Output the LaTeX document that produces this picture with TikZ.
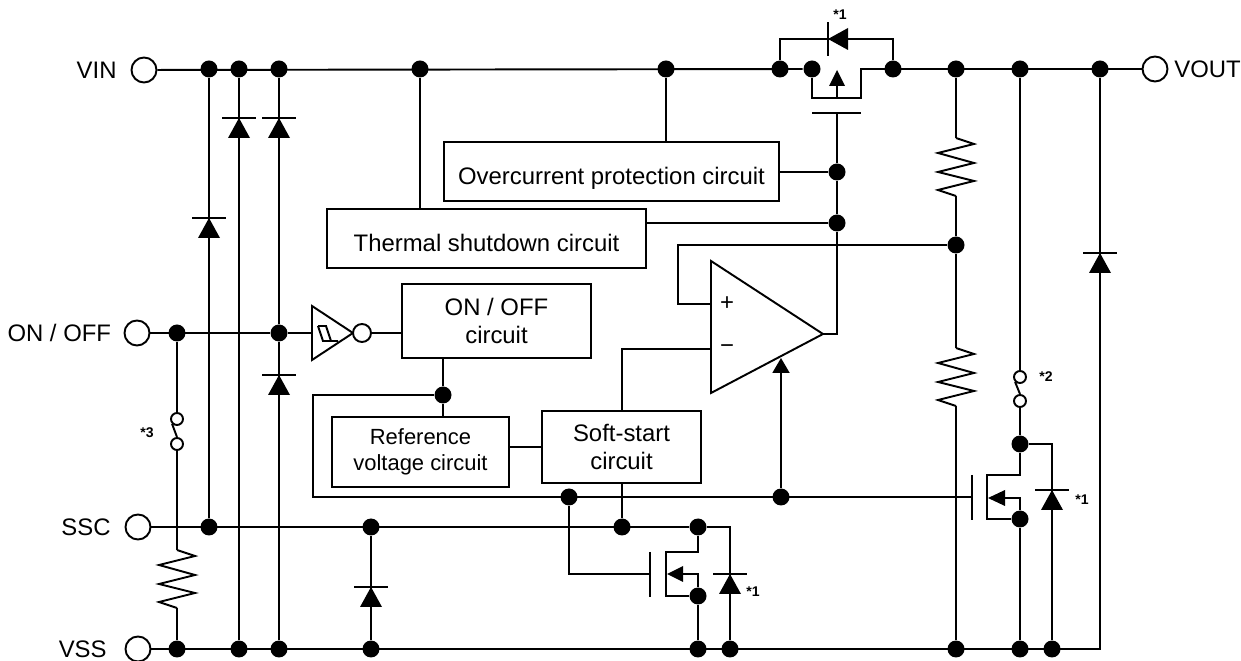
\documentclass[tikz,border=0pt]{standalone}
\usepackage{fontspec}
\setmainfont{Liberation Sans}
\usetikzlibrary{positioning}
\usetikzlibrary{arrows.meta}

\tikzset{
  jdot/.style={circle, fill, inner sep=0pt, minimum size=0.34cm},
  pin/.style={circle, draw, fill=white, inner sep=0pt, minimum size=0.5cm},
  swc/.style={circle, draw, fill=white, inner sep=0pt, minimum size=0.24cm},
  bubble/.style={circle, draw, fill=white, inner sep=0pt, minimum size=0.36cm},
  block/.style={draw, align=center, inner sep=0pt, font=\fontsize{13.6}{16}\selectfont},
  lowtext/.style={text height=15pt, text depth=0pt},
  lbl/.style={inner sep=0pt, font=\fontsize{13.6}{16}\selectfont},
  note/.style={inner sep=0pt, font=\fontsize{8}{9}\selectfont\bfseries},
  diodeup/.pic={
    \draw (-17,0) -- (17,0);
    \fill (0,0) -- (-11,20) -- (11,20) -- cycle;
  },
  resv/.pic={
    \draw (0,0) -- (18,6) -- (-18,15) -- (18,25) -- (-18,34) -- (18,43) -- (-18,52) -- (0,58);
  }
}

\begin{document}
\begin{tikzpicture}[x=0.02cm, y=-0.02cm, line width=1.1pt]
  \useasboundingbox (0,0) rectangle (1241,661);

  % terminals
  \node[pin] (vinpin)   at (144,70)  {};
  \node[lbl, left=0.26cm of vinpin] (vintxt) {VIN};
  \node[pin] (voutpin)  at (1155,69) {};
  \node[lbl, right=0.1cm of voutpin] (vouttxt) {VOUT};
  \node[pin] (onoffpin) at (137,333) {};
  \node[lbl, left=0.23cm of onoffpin] (onofftxt) {ON / OFF};
  \node[pin] (sscpin)   at (138,527) {};
  \node[lbl, left=0.26cm of sscpin] (ssctxt) {SSC};
  \node[pin] (vsspin)   at (138,649) {};
  \node[lbl, left=0.34cm of vsspin] (vsstxt) {VSS};

  % blocks
  \node[block, lowtext, minimum width=6.7cm,  minimum height=1.18cm] (ocp) at (611.5,171.5) {Overcurrent protection circuit};
  \node[block, lowtext, minimum width=6.38cm, minimum height=1.18cm] (tsd) at (486.5,238.5) {Thermal shutdown circuit};
  \node[block, minimum width=3.78cm, minimum height=1.48cm] (onoff) at (496.5,321) {ON / OFF\\circuit};
  \node[block, minimum width=3.54cm, minimum height=1.4cm, font=\fontsize{12.5}{15}\selectfont] (vref) at (420.5,452) {Reference\\voltage circuit};
  \node[block, minimum width=3.18cm, minimum height=1.44cm] (ss) at (621.5,447) {Soft-start\\circuit};

  % junctions on VIN / VOUT rail
  \node[jdot] (d1)  at (209,69)  {};
  \node[jdot] (d2)  at (239,69)  {};
  \node[jdot] (d3)  at (279,69)  {};
  \node[jdot] (dts) at (420,69)  {};
  \node[jdot] (doc) at (666,69)  {};
  \node[jdot] (dpa) at (780,69)  {};
  \node[jdot] (dps) at (812,69)  {};
  \node[jdot] (dpd) at (893,69)  {};
  \node[jdot] (dr)  at (956,69)  {};
  \node[jdot] (dsw) at (1020,69) {};
  \node[jdot] (dvd) at (1100,69) {};

  % other junctions
  \node[jdot] (don)   at (177,333)  {};
  \node[jdot] (dinv)  at (279,333)  {};
  \node[jdot] (dloop) at (443,395)  {};
  \node[jdot] (dg1)   at (837,172)  {};
  \node[jdot] (dg2)   at (837,223)  {};
  \node[jdot] (dfb)   at (956,245)  {};
  \node[jdot] (dg3)   at (569,497)  {};
  \node[jdot] (darr)  at (781,497)  {};
  \node[jdot] (dssc1) at (209,527)  {};
  \node[jdot] (dssc2) at (371,527)  {};
  \node[jdot] (dssc3) at (622,527)  {};
  \node[jdot] (dn1d)  at (698,527)  {};
  \node[jdot] (dn1s)  at (698,596)  {};
  \node[jdot] (dn2d)  at (1020,444) {};
  \node[jdot] (dn2s)  at (1020,519) {};

  % junctions on VSS rail
  \node[jdot] (dv1) at (177,649)  {};
  \node[jdot] (dv2) at (239,649)  {};
  \node[jdot] (dv3) at (279,649)  {};
  \node[jdot] (dv4) at (371,649)  {};
  \node[jdot] (dv5) at (698,649)  {};
  \node[jdot] (dv6) at (730,649)  {};
  \node[jdot] (dv7) at (956,649)  {};
  \node[jdot] (dv8) at (1020,649) {};
  \node[jdot] (dv9) at (1052,649) {};

  % switches
  \node[swc] (sw3a) at (177,419)  {};
  \node[swc] (sw3b) at (177,444)  {};
  \node[swc] (sw2a) at (1020,377) {};
  \node[swc] (sw2b) at (1020,401) {};

  % rails
  \draw (vinpin) -- (dps);
  \draw (onoffpin) -- (dinv) -- (312,333);
  \draw (sscpin) -- (dn1d);
  \coordinate (vrc) at (1100,649);
  \draw (vsspin) -- (vrc) -- (dvd);
  \pic at (1100,253) {diodeup};

  % output transistor with body diode
  \coordinate (pch1) at (812,98);
  \coordinate (pch2) at (861,98);
  \coordinate (pdr)  at (861,69);
  \draw (dps) -- (pch1) -- (pch2) -- (pdr) -- (voutpin);
  \draw (837,98) -- (837,85);
  \fill (837,70) -- (829,86) -- (845,86) -- cycle;
  \coordinate (pdl)  at (780,39);
  \coordinate (pdrt) at (893,39);
  \draw (dpa) -- (pdl) -- (pdrt) -- (dpd);
  \pic[rotate=90] at (828,39) {diodeup};
  \coordinate (pgl) at (812,113);
  \coordinate (pgr) at (861,113);
  \coordinate (pgm) at (837,113);
  \draw (pgl) -- (pgr);

  % error amplifier
  \coordinate (oatop) at (711,261);
  \coordinate (oabot) at (711,393);
  \coordinate (oaout) at (823,334);
  \coordinate (oap)   at (711,304);
  \coordinate (oam)   at (711,349);
  \draw (oatop) -- (oaout) -- (oabot) -- cycle;
  \node[lbl] (plus)  at (727,304) {+};
  \node[lbl] (minus) at (727,349) {−};
  \coordinate (gout) at (837,334);
  \draw (pgm) -- (dg1) -- (dg2) -- (gout) -- (oaout);
  \coordinate (fbc) at (678,304);
  \draw (oap) -- (fbc) |- (dfb);
  \draw (oam) -| (ss.north -| dssc3);
  \coordinate (oaarr) at (781,358);
  \draw[-{Triangle[length=0.3cm, width=0.34cm]}] (darr) -- (oaarr);

  % protection blocks
  \draw (doc) -- (doc |- ocp.north);
  \draw (ocp.east |- dg1) -- (dg1);
  \draw (dts) -- (dts |- tsd.north);
  \draw (tsd.east |- dg2) -- (dg2);

  % divider
  \coordinate (r1top) at (956,138);
  \coordinate (r1bot) at (956,196);
  \coordinate (r2top) at (956,348);
  \coordinate (r2bot) at (956,406);
  \draw (dr) -- (r1top);
  \pic at (r1top) {resv};
  \draw (r1bot) -- (dfb) -- (r2top);
  \pic at (r2top) {resv};
  \draw (r2bot) -- (dv7);

  % discharge switch at VOUT
  \draw (dsw) -- (sw2a);
  \draw (sw2a.south west) -- (sw2b.north);
  \draw (sw2b) -- (dn2d);
  \coordinate (n2c1) at (1052,444);
  \draw (dn2d) -- (n2c1) -- (dv9);
  \pic at (1052,490) {diodeup};
  \coordinate (n2a) at (1020,475);
  \coordinate (n2b) at (987,475);
  \coordinate (n2c) at (987,519);
  \draw (dn2d) -- (n2a) -- (n2b) -- (n2c) -- (dn2s) -- (dv8);
  \draw (1005,498) -- (1020,498) -- (dn2s);
  \fill (988,498) -- (1005,490) -- (1005,506) -- cycle;
  \draw (972,475) -- (972,520);
  \coordinate (g2) at (972,497);

  % ON / OFF control
  \draw (312,306) -- (353,333) -- (312,360) -- cycle;
  \draw (318,326) -- (326,326) -- (331,341) -- (338,341);
  \draw (318,326) -- (323,341) -- (331,341);
  \node[bubble] (invbub) at (362,333) {};
  \draw (invbub) -- (invbub -| onoff.west);
  \draw (onoff.south -| dloop) -- (dloop) -- (dloop |- vref.north);
  \coordinate (lpa) at (313,395);
  \coordinate (lpb) at (313,497);
  \draw (dloop) -- (lpa) -- (lpb) -- (g2);
  \draw (vref.east |- ss.west) -- (ss.west);
  \draw (dssc3 |- ss.south) -- (dssc3);

  % discharge switch at SSC
  \coordinate (g1) at (650,574);
  \draw (dg3) |- (g1);
  \draw (650,552) -- (650,597);
  \coordinate (n1a) at (698,552);
  \coordinate (n1b) at (666,552);
  \coordinate (n1c) at (666,596);
  \draw (dn1d) -- (n1a) -- (n1b) -- (n1c) -- (dn1s) -- (dv5);
  \draw (683,574) -- (698,574) -- (dn1s);
  \fill (667,574) -- (683,566) -- (683,582) -- cycle;
  \coordinate (n1e) at (730,527);
  \draw (dn1d) -- (n1e) -- (dv6);
  \pic at (730,574) {diodeup};

  % input protection diodes
  \draw (d1) -- (dssc1);
  \pic at (209,218) {diodeup};
  \draw (d2) -- (dv2);
  \pic at (239,118) {diodeup};
  \draw (d3) -- (dinv) -- (dv3);
  \pic at (279,118) {diodeup};
  \pic at (279,375) {diodeup};
  \draw (dssc2) -- (dv4);
  \pic at (371,587) {diodeup};

  % ON / OFF pull-down
  \coordinate (r3top) at (177,550);
  \coordinate (r3bot) at (177,608);
  \draw (don) -- (sw3a);
  \draw (sw3a.south west) -- (sw3b.north);
  \draw (sw3b) -- (r3top);
  \pic at (r3top) {resv};
  \draw (r3bot) -- (dv1);

  % notes
  \node[note] (nt1) at (840,15)   {*1};
  \node[note] (nt2) at (1046,377) {*2};
  \node[note] (nt3) at (147,433)  {*3};
  \node[note] (nt4) at (1082,500) {*1};
  \node[note] (nt5) at (753,592)  {*1};
\end{tikzpicture}
\end{document}
